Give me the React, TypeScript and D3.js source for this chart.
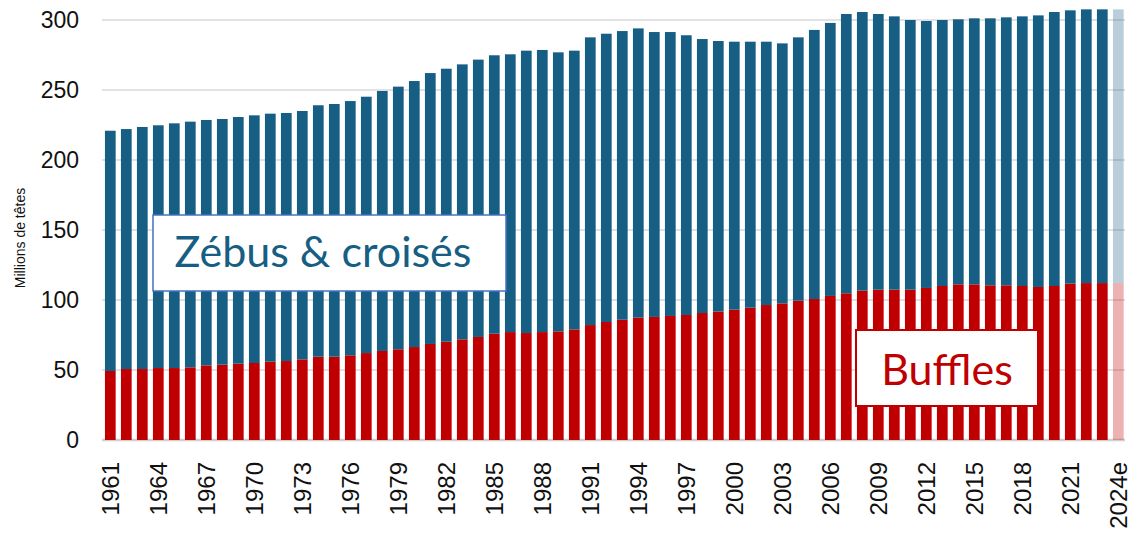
import React from 'react';
import * as d3 from 'd3';

// Cheptel bovin (millions de têtes), 1961 -> 2024e
const years = [
  '1961', '1962', '1963', '1964', '1965', '1966', '1967', '1968', '1969', '1970',
  '1971', '1972', '1973', '1974', '1975', '1976', '1977', '1978', '1979', '1980',
  '1981', '1982', '1983', '1984', '1985', '1986', '1987', '1988', '1989', '1990',
  '1991', '1992', '1993', '1994', '1995', '1996', '1997', '1998', '1999', '2000',
  '2001', '2002', '2003', '2004', '2005', '2006', '2007', '2008', '2009', '2010',
  '2011', '2012', '2013', '2014', '2015', '2016', '2017', '2018', '2019', '2020',
  '2021', '2022', '2023', '2024e',
];

const buffles = [
  49.3, 50.7, 50.7, 51.4, 51.4, 51.9, 53.3, 53.8, 54.5, 55.0,
  56.0, 56.4, 57.6, 59.5, 59.5, 60.5, 62.1, 63.6, 64.8, 66.4,
  68.6, 70.2, 71.9, 73.6, 75.9, 77.1, 76.4, 77.1, 77.6, 79.0,
  82.1, 84.3, 85.9, 87.4, 87.9, 88.6, 89.3, 90.7, 91.7, 93.1,
  94.5, 96.4, 97.6, 99.5, 100.7, 102.9, 104.8, 106.7, 107.4, 107.4,
  107.4, 108.6, 110.0, 111.2, 111.2, 110.5, 110.5, 110.0, 109.3, 110.0,
  111.7, 112.1, 112.1, 112.1,
];

const zebus = [
  171.6, 171.4, 172.9, 173.4, 174.8, 175.5, 175.3, 175.5, 176.2, 176.9,
  177.1, 177.2, 177.4, 179.6, 180.5, 181.6, 183.1, 185.7, 187.6, 190.0,
  193.5, 195.0, 196.4, 198.1, 198.9, 198.4, 201.7, 201.5, 199.3, 199.1,
  205.5, 205.9, 206.2, 206.6, 203.5, 202.8, 199.8, 195.7, 193.3, 191.4,
  190.0, 188.1, 185.7, 188.1, 192.2, 195.0, 199.5, 199.0, 196.9, 195.2,
  192.6, 190.7, 190.0, 189.3, 190.0, 190.7, 191.4, 192.6, 194.0, 195.7,
  195.2, 195.5, 195.5, 195.5,
];

const yTicks = [0, 50, 100, 150, 200, 250, 300];
const estimateYear = '2024e';

const W = 1130;
const H = 535;
const BLUE = '#165e83';
const RED = '#c00000';
const numFont = '"Liberation Sans", Arial, sans-serif';
const labelFont = 'Lato, "Open Sans", sans-serif';

export default function App() {
  const rows = years.map((y, i) => ({ year: y, buffles: buffles[i], zebus: zebus[i] }));
  const stacked = d3.stack<any>().keys(['buffles', 'zebus'])(rows);

  const x = d3.scaleBand<string>()
    .domain(years)
    .range([102.3, 1126.3])
    .paddingInner(0.33)
    .paddingOuter(0.165);

  const y = d3.scaleLinear().domain([0, 300]).range([440, 20]);

  const colors = [RED, BLUE];

  return (
    <svg width={W} height={H} style={{ position: 'absolute', left: 0, top: 0 }}>
      <rect width={W} height={H} fill="#fff" />

      {/* gridlines */}
      {yTicks.map(t => (
        <line
          key={t}
          x1={102}
          x2={1125}
          y1={y(t)}
          y2={y(t)}
          stroke={t === 0 ? '#d0d0d0' : '#d9d9d9'}
          strokeWidth={t === 0 ? 2.5 : 1.5}
        />
      ))}

      {/* y tick labels */}
      {yTicks.map(t => (
        <text
          key={t}
          x={79}
          y={y(t)}
          dy="0.35em"
          textAnchor="end"
          fontFamily={numFont}
          fontSize={23}
          fill="#111"
        >
          {t}
        </text>
      ))}

      <text
        transform={`translate(25,238) rotate(-90)`}
        textAnchor="middle"
        fontFamily={numFont}
        fontSize={14}
        fill="#111"
      >
        Millions de têtes
      </text>

      {/* stacked bars */}
      {stacked.map((layer, li) => (
        <g key={layer.key} fill={colors[li]}>
          {layer.map(d => (
            <rect
              key={d.data.year}
              x={x(d.data.year)}
              width={x.bandwidth()}
              y={y(d[1])}
              height={y(d[0]) - y(d[1])}
              opacity={d.data.year === estimateYear ? 0.3 : 1}
            />
          ))}
        </g>
      ))}

      {/* x tick labels */}
      {years.map((yr, i) => i % 3 === 0 ? (
        <text
          key={yr}
          transform={`translate(${x(yr)! + x.bandwidth() / 2},462) rotate(-90)`}
          dy="0.35em"
          textAnchor="end"
          fontFamily={numFont}
          fontSize={24}
          fill="#111"
        >
          {yr}
        </text>
      ) : null)}

      {/* series labels */}
      <rect x={153} y={215} width={353} height={76} fill="#fff" stroke="#4472c4" strokeWidth={1.5} />
      <text x={323} y={267} textAnchor="middle" fontFamily={labelFont} fontSize={43} fill={BLUE}>
        Zébus &amp; croisés
      </text>

      <rect x={856} y={330} width={182} height={76} fill="#fff" stroke={RED} strokeWidth={2} />
      <text x={947} y={385} textAnchor="middle" fontFamily={labelFont} fontSize={43} fill={RED}>
        Buffles
      </text>
    </svg>
  );
}
